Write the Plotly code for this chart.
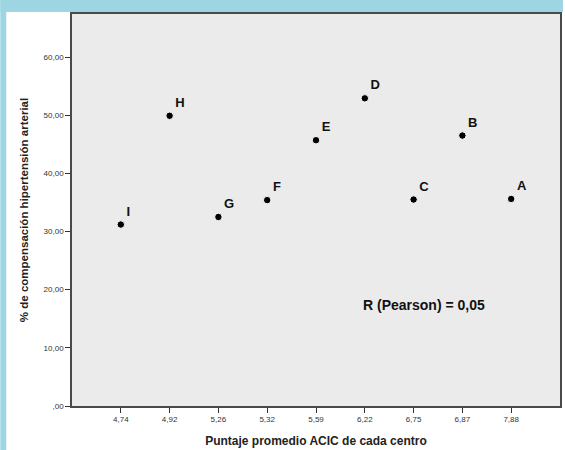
import plotly.graph_objects as go

# Data
x_labels = ["4,74", "4,92", "5,26", "5,32", "5,59", "6,22", "6,75", "6,87", "7,88"]
centers = ["I", "H", "G", "F", "E", "D", "C", "B", "A"]
compensation = [31.2, 49.9, 32.5, 35.4, 45.7, 52.9, 35.5, 46.5, 35.6]
y_ticks = [0, 10, 20, 30, 40, 50, 60]
y_tick_text = [",00", "10,00", "20,00", "30,00", "40,00", "50,00", "60,00"]

W, H = 565, 450
ML, MR, MT, MB = 72, 3, 14, 44
PW, PH = W - ML - MR, H - MT - MB

fig = go.Figure()
fig.add_trace(go.Scatter(
    x=x_labels, y=compensation, mode="markers+text",
    text=["<b>" + c + "</b>" for c in centers], textposition="top right",
    textfont=dict(family="Liberation Sans", size=13, color="#111111"),
    marker=dict(color="#000000", size=7.5, line=dict(color="white", width=1)),
    cliponaxis=False, showlegend=False, hoverinfo="skip",
))

def px_x(p):
    return (p - ML) / PW

def px_y(p):
    return 1 - (p - MT) / PH

BLUE = "#9dd6e2"
shapes = [
    dict(type="rect", xref="paper", yref="paper", layer="below",
         x0=px_x(0), x1=px_x(6), y0=px_y(H), y1=px_y(0),
         fillcolor=BLUE, line=dict(width=0)),
    dict(type="rect", xref="paper", yref="paper", layer="below",
         x0=px_x(0), x1=px_x(W), y0=px_y(12), y1=px_y(0),
         fillcolor=BLUE, line=dict(width=0)),
]

fig.update_layout(
    width=W, height=H,
    margin=dict(l=ML, r=MR, t=MT, b=MB),
    paper_bgcolor="white", plot_bgcolor="#ebebeb",
    shapes=shapes,
    font=dict(family="Liberation Sans", color="#222222"),
    xaxis=dict(
        type="category", range=[-1, 9],
        showgrid=False, zeroline=False,
        showline=True, mirror=True, linecolor="#4a4a4a", linewidth=1.5,
        ticks="outside", ticklen=5, tickwidth=1.2, tickcolor="#333333",
        tickfont=dict(size=8, color="#333333"),
        title=dict(text="<b>Puntaje promedio ACIC de cada centro</b>",
                   font=dict(size=12, color="#222222"), standoff=13),
    ),
    yaxis=dict(
        range=[0, 67.4],
        tickvals=y_ticks, ticktext=y_tick_text,
        showgrid=False, zeroline=False,
        showline=True, mirror=True, linecolor="#4a4a4a", linewidth=1.5,
        ticks="outside", ticklen=5, tickwidth=1.2, tickcolor="#333333",
        tickfont=dict(size=8, color="#333333"),
        title=dict(text="<b>% de compensación hipertensión arterial</b>",
                   font=dict(size=11.5, color="#222222"), standoff=13),
    ),
    annotations=[dict(
        text="<b>R (Pearson) = 0,05</b>", xref="paper", yref="paper",
        x=px_x(362), y=px_y(305), xanchor="left", yanchor="middle",
        showarrow=False, font=dict(size=14, color="#111111"),
    )],
)

fig.write_html("out.html", config={"displayModeBar": False},
               post_script="document.body.style.margin='0';document.body.style.overflow='hidden';")
